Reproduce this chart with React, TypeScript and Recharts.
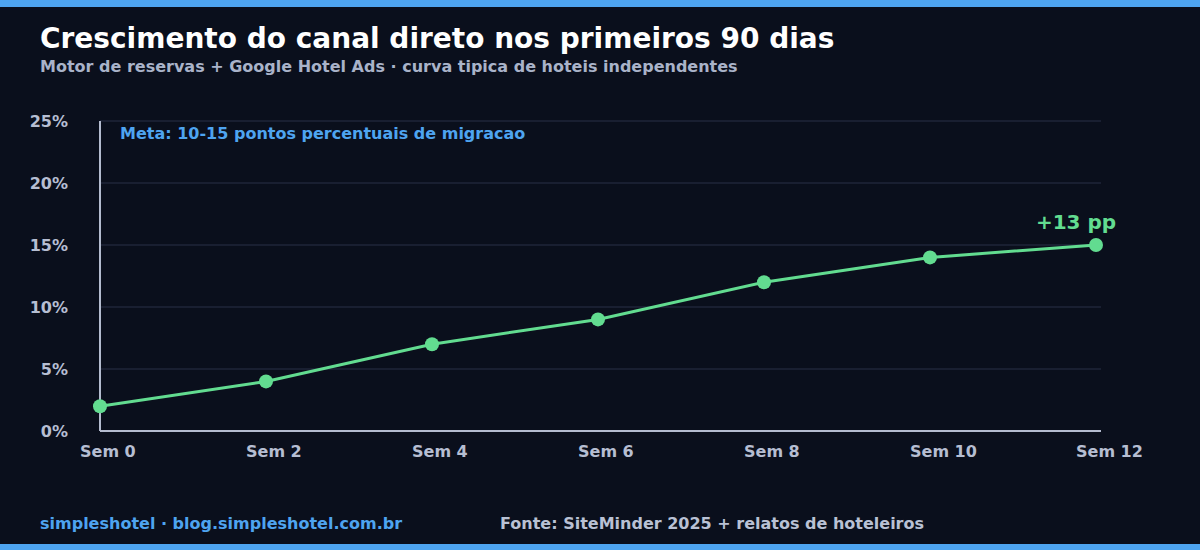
import React from "react";
import { LineChart, Line, XAxis, YAxis, CartesianGrid, LabelList } from "recharts";

// Share of bookings coming through the direct channel, by week
const weeks = [0, 2, 4, 6, 8, 10, 12];
const directShare = [2, 4, 7, 9, 12, 14, 15];
const yTicks = [0, 5, 10, 15, 20, 25];

const data = weeks.map((w, i) => ({ week: w, share: directShare[i] }));
const gain = directShare[directShare.length - 1] - directShare[0];

const FONT = "'DejaVu Sans', sans-serif";
const BG = "#0a0f1c";
const BLUE = "#4ea4f0";
const GREEN = "#62dc90";
const MUTED = "#b6bed2";
const AXIS = "#b4bccf";

const XTick = (props: any) => {
  const { x, y, payload } = props;
  return (
    <text x={x - 20} y={y + 18} textAnchor="start" fill={MUTED} fontFamily={FONT} fontWeight="bold" fontSize={16}>
      {`Sem ${payload.value}`}
    </text>
  );
};

const YTick = (props: any) => {
  const { y, payload } = props;
  return (
    <text x={68} y={y + 6} textAnchor="end" fill={MUTED} fontFamily={FONT} fontWeight="bold" fontSize={16}>
      {`${payload.value}%`}
    </text>
  );
};

const GainLabel = (props: any) => {
  const { x, y, index } = props;
  if (index !== data.length - 1) return null;
  return (
    <text x={x - 20} y={y - 16} textAnchor="middle" fill={GREEN} fontFamily={FONT} fontWeight="bold" fontSize={20}>
      {`+${gain} pp`}
    </text>
  );
};

export default function App() {
  return (
    <div style={{ position: "absolute", left: 0, top: 0, width: 1200, height: 550, background: BG, overflow: "hidden", fontFamily: FONT }}>
      <div style={{ position: "absolute", left: 0, top: 0, width: 1200, height: 7, background: BLUE }} />
      <div style={{ position: "absolute", left: 0, bottom: 0, width: 1200, height: 6, background: BLUE }} />
      <div style={{ position: "absolute", left: 40, top: 21, color: "#ffffff", fontWeight: "bold", fontSize: 28, lineHeight: "36px", whiteSpace: "nowrap" }}>
        Crescimento do canal direto nos primeiros 90 dias
      </div>
      <div style={{ position: "absolute", left: 40, top: 57, color: "#a9b3c9", fontWeight: "bold", fontSize: 16, lineHeight: "20px", whiteSpace: "nowrap" }}>
        Motor de reservas + Google Hotel Ads · curva tipica de hoteis independentes
      </div>
      <LineChart
        width={1200}
        height={550}
        data={data}
        margin={{ top: 121, right: 99, left: 40, bottom: 89 }}
      >
        <CartesianGrid vertical={false} stroke="#1f2639" strokeWidth={1.5} horizontalValues={[5, 10, 15, 20, 25]} />
        <XAxis
          dataKey="week"
          type="number"
          domain={[0, 12]}
          ticks={weeks}
          padding={{ left: 0, right: 5 }}
          height={30}
          axisLine={{ stroke: AXIS, strokeWidth: 2 }}
          tickLine={false}
          tick={<XTick />}
          interval={0}
        />
        <YAxis
          type="number"
          domain={[0, 25]}
          ticks={yTicks}
          width={60}
          axisLine={{ stroke: AXIS, strokeWidth: 2 }}
          tickLine={false}
          tick={<YTick />}
          interval={0}
        />
        <Line
          type="linear"
          dataKey="share"
          stroke={GREEN}
          strokeWidth={3}
          dot={{ r: 7, fill: GREEN, stroke: GREEN, strokeWidth: 0 }}
          activeDot={false}
          isAnimationActive={false}
        >
          <LabelList dataKey="share" content={<GainLabel />} />
        </Line>
      </LineChart>
      <div style={{ position: "absolute", left: 120, top: 124, color: BLUE, fontWeight: "bold", fontSize: 16, lineHeight: "20px", whiteSpace: "nowrap" }}>
        Meta: 10-15 pontos percentuais de migracao
      </div>
      <div style={{ position: "absolute", left: 40, top: 514, color: BLUE, fontWeight: "bold", fontSize: 16, lineHeight: "20px", whiteSpace: "nowrap" }}>
        simpleshotel · blog.simpleshotel.com.br
      </div>
      <div style={{ position: "absolute", left: 500, top: 514, color: "#b9c1d4", fontWeight: "bold", fontSize: 16, lineHeight: "20px", whiteSpace: "nowrap" }}>
        Fonte: SiteMinder 2025 + relatos de hoteleiros
      </div>
    </div>
  );
}
